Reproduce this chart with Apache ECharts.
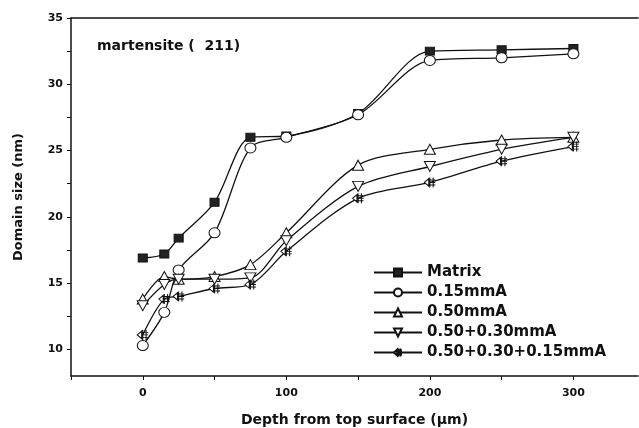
<!DOCTYPE html>
<html>
<head>
<meta charset="utf-8">
<script src="https://cdn.jsdelivr.net/npm/echarts@6/dist/echarts.min.js"></script>
<style>
    html, body { margin: 0; padding: 0; background: #fff; }
    #chart { width: 639px; height: 428px; }
</style>
</head>
<body>
<div id="chart"></div>
<script>
// depth (um) shared by all series
var depths = [0, 15, 25, 50, 75, 100, 150, 200, 250, 300];

// domain size (nm)
var matrixVals = [16.9, 17.2, 18.4, 21.1, 26.0, 26.1, 27.8, 32.5, 32.6, 32.7];
var ma015Vals = [10.3, 12.8, 16.0, 18.8, 25.2, 26.0, 27.7, 31.8, 32.0, 32.3];
var ma050Vals = [13.8, 15.5, 15.3, 15.5, 16.4, 18.8, 23.9, 25.1, 25.8, 26.0];
var ma05030Vals = [13.3, 14.9, 15.3, 15.3, 15.4, 18.2, 22.3, 23.8, 25.1, 26.0];
var ma0503015Vals = [11.1, 13.8, 14.0, 14.6, 14.9, 17.4, 21.4, 22.6, 24.2, 25.3];

var seriesNames = ['Matrix', '0.15mmA', '0.50mmA', '0.50+0.30mmA', '0.50+0.30+0.15mmA'];

var xTicks = [-50, 0, 50, 100, 150, 200, 250, 300];
var xLabels = [0, 100, 200, 300];
var yTicks = [10, 12.5, 15, 17.5, 20, 22.5, 25, 27.5, 30, 32.5, 35];
var yLabels = [10, 15, 20, 25, 30, 35];

var Chart = {
    font: 'DejaVu Sans',
    pairs: function (ys) {
        var out = [];
        for (var i = 0; i < depths.length; i++) {
            out.push([depths[i], ys[i]]);
        }
        return out;
    },
    line: function (name, ys, symbol, size, fill) {
        return {
            name: name,
            type: 'line',
            smooth: 0.3,
            data: Chart.pairs(ys),
            symbol: symbol,
            symbolSize: size,
            showAllSymbol: true,
            lineStyle: { color: '#111', width: 1.3 },
            itemStyle: { color: fill, borderColor: '#111', borderWidth: 1 },
            emphasis: { disabled: true },
            animation: false
        };
    },
    init: function () {
        var downTri = 'path://M0,0 L10,0 L5,9 Z';
        var hash = 'path://M0,5 L4,2 L4,8 Z M4,5 L10,5 M5,1 L5,9 M8,1 L8,9 M3,3 L10,3 M3,7 L10,7';
        var option = {
            backgroundColor: '#fff',
            title: {
                text: 'martensite (  211)',
                left: 92,
                top: 34,
                textStyle: { fontFamily: Chart.font, fontSize: 14, fontWeight: 'bold', color: '#111' }
            },
            legend: {
                orient: 'vertical',
                left: 368,
                top: 260,
                itemWidth: 48,
                itemHeight: 10,
                itemGap: 5,
                data: seriesNames,
                textStyle: { fontFamily: Chart.font, fontSize: 15, fontWeight: 'bold', color: '#111' }
            },
            grid: { left: 71, right: 1, top: 18, bottom: 52, outerBoundsMode: 'none' },
            xAxis: [{
                type: 'value',
                min: -50,
                max: 345,
                name: 'Depth from top surface (\u03bcm)',
                nameLocation: 'middle',
                nameGap: 37,
                nameTextStyle: { fontFamily: Chart.font, fontSize: 14, fontWeight: 'bold', color: '#111' },
                axisLine: { lineStyle: { color: '#111', width: 1.5 } },
                axisTick: { customValues: xTicks, length: 4, lineStyle: { color: '#111' } },
                axisLabel: { customValues: xLabels, margin: 12, fontFamily: Chart.font, fontSize: 11, fontWeight: 'bold', color: '#111' },
                splitLine: { show: false }
            }, {
                type: 'value',
                position: 'top',
                min: -50,
                max: 345,
                axisLine: { show: true, onZero: false, lineStyle: { color: '#111', width: 1.5 } },
                axisTick: { show: false },
                axisLabel: { show: false },
                splitLine: { show: false }
            }],
            yAxis: {
                type: 'value',
                min: 8,
                max: 35,
                name: 'Domain size (nm)',
                nameLocation: 'middle',
                nameGap: 46,
                nameTextStyle: { fontFamily: Chart.font, fontSize: 13, fontWeight: 'bold', color: '#111' },
                axisLine: { show: true, onZero: false, lineStyle: { color: '#111', width: 1.5 } },
                axisTick: { show: true, customValues: yTicks, length: 4, lineStyle: { color: '#111' } },
                axisLabel: { customValues: yLabels, margin: 8, fontFamily: Chart.font, fontSize: 11, fontWeight: 'bold', color: '#111' },
                splitLine: { show: false }
            },
            series: [
                Chart.line(seriesNames[0], matrixVals, 'rect', [9, 8], '#222'),
                Chart.line(seriesNames[1], ma015Vals, 'circle', [11, 10], '#fff'),
                Chart.line(seriesNames[2], ma050Vals, 'triangle', [11, 10], '#fff'),
                Chart.line(seriesNames[3], ma05030Vals, downTri, [11, 10], '#fff'),
                Chart.line(seriesNames[4], ma0503015Vals, hash, [11, 10], '#fff')
            ]
        };
        var chart = echarts.init(document.getElementById('chart'), null, { renderer: 'canvas' });
        chart.setOption(option);
    }
};

Chart.init();
</script>
</body>
</html>
